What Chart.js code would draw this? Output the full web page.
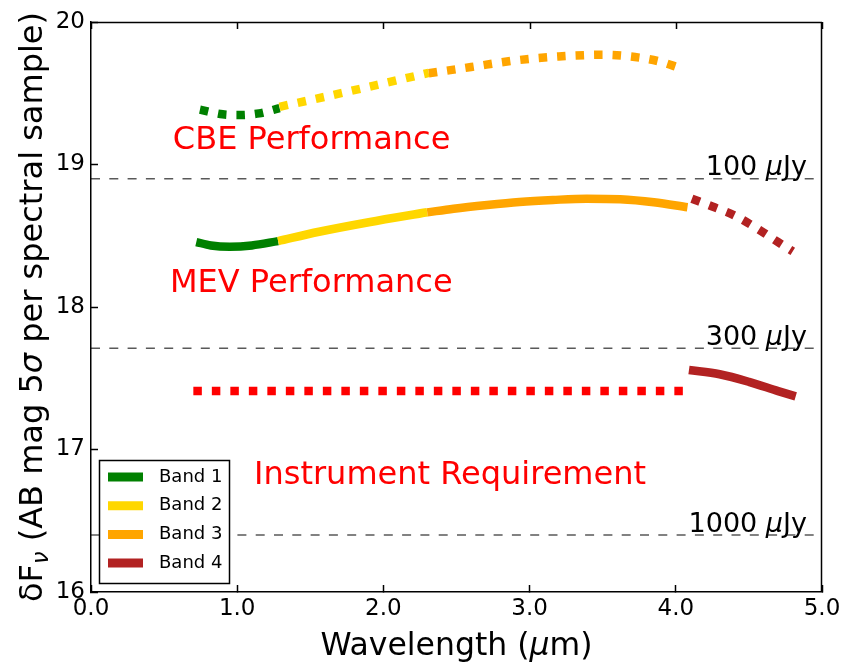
<!DOCTYPE html>
<html>
<head>
<meta charset="utf-8">
<script src="https://cdn.jsdelivr.net/npm/chart.js@4.4.1/dist/chart.umd.min.js"></script>
<style>
html, body { margin: 0; padding: 0; background: #fff; }
#wrap { width: 842px; height: 662px; }
</style>
</head>
<body>
<div id="wrap"><canvas id="c" width="842" height="662"></canvas></div>
<script>
// ---- Sensitivity curves: wavelength (µm) vs 5σ depth per spectral sample (AB mag) ----

// Current best estimate (CBE) performance
const cbeBand1Wave = [0.745, 0.90, 1.02, 1.15, 1.29];
const cbeBand1Mag  = [19.385, 19.352, 19.347, 19.359, 19.395];
const cbeBand2Wave = [1.29, 1.60, 1.95, 2.31];
const cbeBand2Mag  = [19.405, 19.475, 19.557, 19.643];
const cbeBand3Wave = [2.31, 2.60, 2.90, 3.20, 3.50, 3.75, 3.90, 4.02];
const cbeBand3Mag  = [19.640, 19.684, 19.730, 19.758, 19.770, 19.750, 19.720, 19.680];

// Maximum expected value (MEV) performance
const mevBand1Wave = [0.72, 0.82, 0.95, 1.10, 1.28];
const mevBand1Mag  = [18.456, 18.432, 18.423, 18.432, 18.462];
const mevBand2Wave = [1.28, 1.56, 1.90, 2.30];
const mevBand2Mag  = [18.462, 18.528, 18.595, 18.665];
const mevBand3Wave = [2.30, 2.48, 2.71, 2.93, 3.16, 3.39, 3.62, 3.85, 4.08];
const mevBand3Mag  = [18.664, 18.690, 18.716, 18.737, 18.751, 18.760, 18.756, 18.735, 18.700];
const mevBand4Wave = [4.11, 4.25, 4.40, 4.55, 4.70, 4.80];
const mevBand4Mag  = [18.760, 18.705, 18.643, 18.555, 18.455, 18.390];

// Instrument requirement
const reqBand13Wave = [0.70, 4.09];
const reqBand13Mag  = [17.41, 17.41];
const reqBand4Wave  = [4.09, 4.30, 4.50, 4.70, 4.82];
const reqBand4Mag   = [17.558, 17.528, 17.475, 17.410, 17.373];

// Reference flux levels (µJy) and their AB magnitudes
const refFlux = ['100', '300', '1000'];
const refMag  = [18.90, 17.71, 16.40];

// Legend entries
const bandNames  = ['Band 1', 'Band 2', 'Band 3', 'Band 4'];
const bandColors = ['#008000', '#FFD700', '#FFA500', '#B22222'];
const reqColor   = '#FF0000';

// Axis ticks
const xTicks = [0, 1, 2, 3, 4, 5];
const yTicks = [16, 17, 18, 19, 20];

// ---- styling ----
const FONT = 'DejaVu Sans';
const LW = 8.5;
const DOT = [8.5, 10];

function series(wave, mag) {
  return wave.map((w, i) => ({ x: w, y: mag[i] }));
}
function curve(wave, mag, color, dotted) {
  return {
    data: series(wave, mag),
    borderColor: color,
    backgroundColor: color,
    borderWidth: LW,
    borderDash: dotted ? DOT : [],
    borderCapStyle: 'butt',
    borderJoinStyle: 'round',
    pointRadius: 0,
    cubicInterpolationMode: 'monotone',
    fill: false
  };
}
function refLine(mag) {
  return {
    data: [{ x: xTicks[0], y: mag }, { x: xTicks[xTicks.length - 1], y: mag }],
    borderColor: 'rgba(0,0,0,0.65)',
    borderWidth: 1.5,
    borderDash: [9, 9.3],
    pointRadius: 0,
    fill: false
  };
}

const datasets = [
  ...refMag.map(refLine),
  curve(cbeBand1Wave, cbeBand1Mag, bandColors[0], true),
  curve(cbeBand2Wave, cbeBand2Mag, bandColors[1], true),
  curve(cbeBand3Wave, cbeBand3Mag, bandColors[2], true),
  curve(mevBand1Wave, mevBand1Mag, bandColors[0], false),
  curve(mevBand2Wave, mevBand2Mag, bandColors[1], false),
  curve(mevBand3Wave, mevBand3Mag, bandColors[2], false),
  curve(mevBand4Wave, mevBand4Mag, bandColors[3], true),
  curve(reqBand13Wave, reqBand13Mag, reqColor, true),
  curve(reqBand4Wave, reqBand4Mag, bandColors[3], false)
];
// later datasets are painted over earlier ones
datasets.forEach((d, i) => { d.order = datasets.length - i; });

// Text placed in data coordinates
const notes = [
  { text: 'CBE Performance',        x: 0.56,  y: 19.11 },
  { text: 'MEV Performance',        x: 0.54,  y: 18.105 },
  { text: 'Instrument Requirement', x: 1.115, y: 16.758 }
];

// draw a line of text made of plain / italic / subscript runs
function drawRuns(ctx, runs, x, y, align, size) {
  const fontOf = r => (r.it ? 'italic ' : '') + (r.sub ? size * 0.7 : size) + 'px "' + FONT + '"';
  let total = 0;
  const widths = runs.map(r => { ctx.font = fontOf(r); const w = ctx.measureText(r.t).width; total += w; return w; });
  let cx = align === 'right' ? x - total : align === 'center' ? x - total / 2 : x;
  ctx.textAlign = 'left';
  ctx.textBaseline = 'alphabetic';
  runs.forEach((r, i) => {
    ctx.font = fontOf(r);
    ctx.fillText(r.t, cx, y + (r.sub ? size * 0.2 : 0));
    cx += widths[i];
  });
}

const decor = {
  id: 'decor',
  afterDraw(chart) {
    const { ctx, chartArea: a, scales } = chart;
    const xs = scales.x, ys = scales.y;
    ctx.save();

    // top and right frame, ticks on the top edge
    ctx.strokeStyle = '#000';
    ctx.lineWidth = 1.5;
    ctx.beginPath();
    ctx.moveTo(a.left, a.top + 0.5);
    ctx.lineTo(a.right, a.top + 0.5);
    ctx.moveTo(a.right - 0.5, a.top);
    ctx.lineTo(a.right - 0.5, a.bottom);
    xTicks.forEach(v => {
      const px = Math.round(xs.getPixelForValue(v)) + 0.5;
      ctx.moveTo(px, a.top);
      ctx.lineTo(px, a.top + 7);
    });
    ctx.stroke();

    // flux level labels
    ctx.fillStyle = '#000';
    refMag.forEach((m, i) => {
      drawRuns(ctx, [{ t: refFlux[i] + ' ' }, { t: 'μ', it: true }, { t: 'Jy' }],
        xs.getPixelForValue(4.897), ys.getPixelForValue(m) - 3.5, 'right', 27);
    });

    // curve labels
    ctx.fillStyle = reqColor;
    notes.forEach(n => {
      drawRuns(ctx, [{ t: n.text }], xs.getPixelForValue(n.x), ys.getPixelForValue(n.y), 'left', 32);
    });

    // legend
    const lx = 99.5, ly = 460.5, lw = 130, lh = 123;
    ctx.fillStyle = '#fff';
    ctx.fillRect(lx, ly, lw, lh);
    ctx.strokeStyle = '#000';
    ctx.lineWidth = 1.5;
    ctx.strokeRect(lx, ly, lw, lh);
    bandNames.forEach((name, i) => {
      const cy = 477 + i * 28.7;
      ctx.strokeStyle = bandColors[i];
      ctx.lineWidth = 9;
      ctx.lineCap = 'butt';
      ctx.beginPath();
      ctx.moveTo(108, cy);
      ctx.lineTo(143, cy);
      ctx.stroke();
      ctx.fillStyle = '#000';
      ctx.font = '18px "' + FONT + '"';
      ctx.textAlign = 'left';
      ctx.textBaseline = 'middle';
      ctx.fillText(name, 159, cy);
    });

    // axis titles
    ctx.fillStyle = '#000';
    drawRuns(ctx, [{ t: 'Wavelength (' }, { t: 'μ', it: true }, { t: 'm)' }],
      (a.left + a.right) / 2, 655, 'center', 31.5);
    ctx.translate(42, (a.top + a.bottom) / 2);
    ctx.rotate(-Math.PI / 2);
    drawRuns(ctx, [
      { t: 'δF' }, { t: 'ν', it: true, sub: true }, { t: ' (AB mag 5' },
      { t: 'σ', it: true }, { t: ' per spectral sample)' }
    ], 0, 0, 'center', 32);
    ctx.restore();
  }
};

new Chart(document.getElementById('c'), {
  type: 'line',
  data: { datasets },
  options: {
    responsive: false,
    devicePixelRatio: 1,
    animation: false,
    events: [],
    layout: { padding: { left: 0, top: 22, right: 20, bottom: 0 } },
    plugins: { legend: { display: false }, tooltip: { enabled: false }, title: { display: false } },
    scales: {
      x: {
        type: 'linear',
        min: xTicks[0],
        max: xTicks[xTicks.length - 1],
        afterBuildTicks: s => { s.ticks = xTicks.map(v => ({ value: v })); },
        ticks: {
          autoSkip: false, maxRotation: 0, padding: 10, color: '#000',
          font: { family: FONT, size: 23 },
          callback: v => Number(v).toFixed(1)
        },
        grid: { drawOnChartArea: false, tickLength: -7, tickColor: '#000', tickWidth: 1.5 },
        border: { display: true, color: '#000', width: 1.5 },
        afterFit: s => { s.height = 70; s.paddingLeft = 0; s.paddingRight = 0; s.paddingTop = 0; s.paddingBottom = 0; }
      },
      y: {
        type: 'linear',
        min: yTicks[0],
        max: yTicks[yTicks.length - 1],
        afterBuildTicks: s => { s.ticks = yTicks.map(v => ({ value: v })); },
        ticks: {
          autoSkip: false, padding: 13, color: '#000',
          font: { family: FONT, size: 23 },
          callback: v => String(v)
        },
        grid: { drawOnChartArea: false, tickLength: -7, tickColor: '#000', tickWidth: 1.5 },
        border: { display: true, color: '#000', width: 1.5 },
        afterFit: s => { s.width = 91; s.paddingLeft = 0; s.paddingRight = 0; s.paddingTop = 0; s.paddingBottom = 0; }
      }
    }
  },
  plugins: [decor]
});
</script>
</body>
</html>
